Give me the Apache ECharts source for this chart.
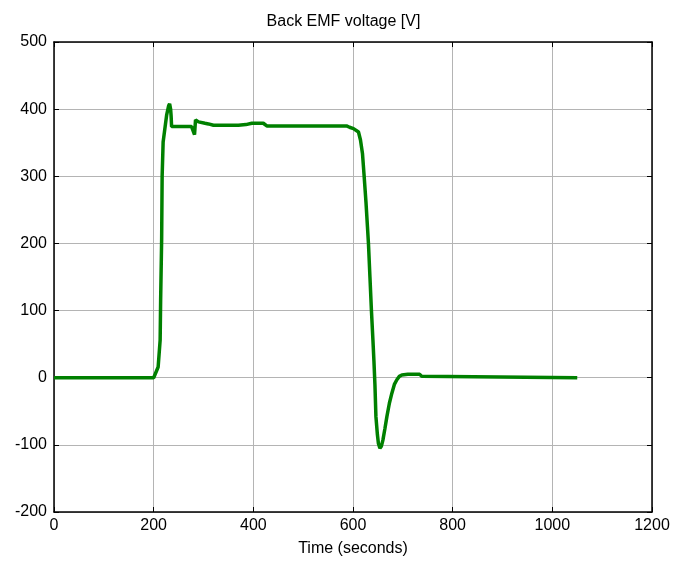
<!DOCTYPE html>
<html>
<head>
<meta charset="utf-8">
<script src="https://cdn.jsdelivr.net/npm/echarts@6/dist/echarts.min.js"></script>
<style>
html,body{margin:0;padding:0;background:#fff;}
#chart{width:687px;height:562px;}
</style>
</head>
<body>
<div id="chart"></div>
<script>
const titleText = "Back EMF voltage [V]";
const xAxisName = "Time (seconds)";
const timeValues = [0,200,203,209,213,214,216,217,219,226,230,232,234,235,236,276,279,282,284,290,303,310,320,340,370,385,397,420,427,587,593,601,611,615,619,622,626,629,631,634,637,640,642,644,646,649,651,654,657,660,664,668,673,678,683,688,693,698,710,734,738,741,1050];
const emfValues = [0,0,0.5,16,56,116,205,300,351,391,405,408,400,390,374,374,372,362,384,381,379,378,376,376,376,377,379,379,375,375,373,371,366,354,334,304,262,225,200,150,100,56,25,-10,-58,-85,-98,-105,-102,-93,-76,-58,-38,-23,-10,-3,2,4,5,5,2,0,0];
const xTicks = {min:0, max:1200, interval:200};
const yTicks = {min:-200, max:500, interval:100};

const seriesData = timeValues.map((t,i)=>[t, emfValues[i]]);
const font = "Liberation Sans, Arial, sans-serif";
const chart = echarts.init(document.getElementById('chart'));
const tickStyle = {show:true, inside:true, length:5, lineStyle:{color:'#000', width:1}};
const plain = v => String(v);
chart.setOption({
  animation:false,
  backgroundColor:'#fff',
  title:{text:titleText, left:'center', top:9, textStyle:{fontFamily:font, fontSize:16, fontWeight:'normal', color:'#000'}},
  grid:{left:54, top:42, right:35, bottom:45, containLabel:false},
  xAxis:[{
    type:'value', min:xTicks.min, max:xTicks.max, interval:xTicks.interval,
    name:xAxisName, nameLocation:'middle', nameGap:29,
    nameTextStyle:{fontFamily:font, fontSize:16, color:'#000'},
    axisLine:{show:true, onZero:false, lineStyle:{color:'#000', width:1.5}},
    axisTick:tickStyle,
    axisLabel:{fontFamily:font, fontSize:16, color:'#000', margin:6, formatter:plain},
    splitLine:{show:true, lineStyle:{color:'#b4b4b4', width:1}}
  },{
    type:'value', position:'top', min:xTicks.min, max:xTicks.max, interval:xTicks.interval,
    axisLine:{show:true, onZero:false, lineStyle:{color:'#000', width:1.5}},
    axisTick:tickStyle, axisLabel:{show:false}, splitLine:{show:false}
  }],
  yAxis:[{
    type:'value', min:yTicks.min, max:yTicks.max, interval:yTicks.interval,
    axisLine:{show:true, onZero:false, lineStyle:{color:'#000', width:1.5}},
    axisTick:tickStyle,
    axisLabel:{fontFamily:font, fontSize:16, color:'#000', margin:7, formatter:plain},
    splitLine:{show:true, lineStyle:{color:'#b4b4b4', width:1}}
  },{
    type:'value', position:'right', min:yTicks.min, max:yTicks.max, interval:yTicks.interval,
    axisLine:{show:true, onZero:false, lineStyle:{color:'#000', width:1.5}},
    axisTick:tickStyle, axisLabel:{show:false}, splitLine:{show:false}
  }],
  series:[{
    type:'line', data:seriesData, showSymbol:false, symbol:'none',
    lineStyle:{color:'#008000', width:3.5}, xAxisIndex:0, yAxisIndex:0
  }]
});
</script>
</body>
</html>
